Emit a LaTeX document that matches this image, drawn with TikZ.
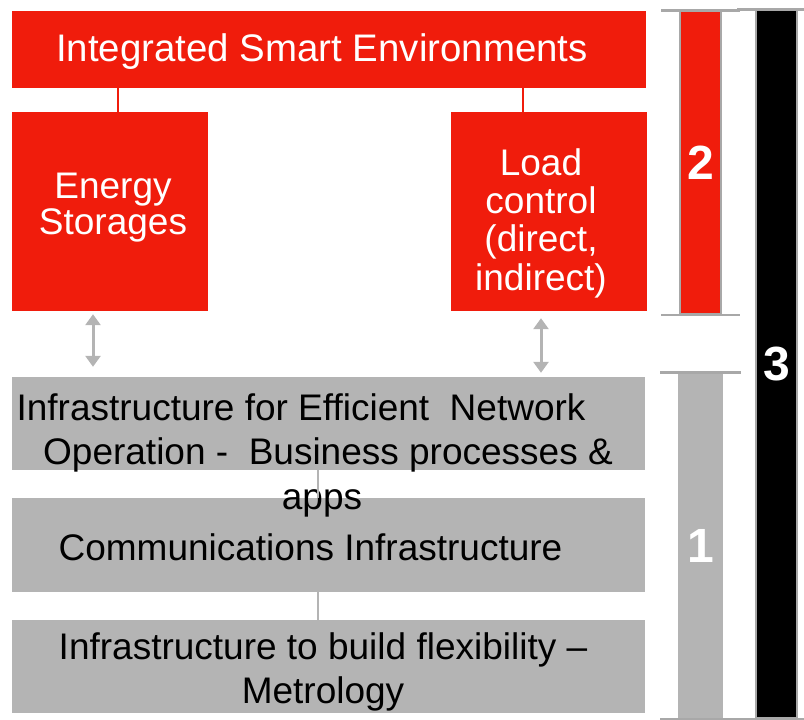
\documentclass[tikz,border=0pt]{standalone}
\usepackage{fontspec}
\setmainfont{Liberation Sans}
\usetikzlibrary{arrows.meta}

\definecolor{boxred}{RGB}{240,28,12}
\definecolor{boxgray}{RGB}{180,180,180}
\definecolor{rimgray}{RGB}{168,168,168}

\tikzset{
  redbox/.style={fill=boxred, inner sep=0pt},
  redtext/.style={text=white, align=center, inner sep=0pt, font=\fontsize{37}{38.3}\selectfont},
  graybox/.style={fill=boxgray, inner sep=0pt, minimum width=633pt, minimum height=93pt},
  graytext/.style={align=center, inner sep=0pt, font=\fontsize{37}{44.5}\selectfont},
  bar/.style={draw=rimgray, line width=1.5pt, inner sep=0pt, text=white,
    font=\fontsize{48}{48}\selectfont\bfseries},
  capline/.style={rimgray, line width=2.5pt},
  feed/.style={boxred, line width=2pt},
  link/.style={boxgray, line width=2pt},
  both/.style={boxgray, line width=3pt,
    {Triangle[width=15pt,length=11pt]}-{Triangle[width=15pt,length=11pt]}}
}

\begin{document}
\begin{tikzpicture}[x=1pt,y=-1pt]
    \useasboundingbox (0,0) rectangle (804,720);
    % upper level
    \node[redbox, minimum width=634pt, minimum height=77pt] (ise) at (329,49.5) {};
    \node[redbox, minimum width=196pt, minimum height=199pt] (storage) at (110,211.5) {};
    \node[redbox, minimum width=196pt, minimum height=199pt] (load) at (549,211.5) {};
    \node[redtext, font=\fontsize{38.4}{40}\selectfont] (isetext) at (322,51.5) {Integrated Smart Environments};
    \node[redtext, font=\fontsize{37}{36.5}\selectfont] (storagetext) at (113,207.5) {Energy\\Storages};
    \node[redtext] (loadtext) at (541,223) {Load\\control\\(direct,\\indirect)};
    \draw[feed] ([xshift=8pt]storage.north) -- ([xshift=8pt]storage.north |- ise.south);
    \draw[feed] ([xshift=-26pt]load.north) -- ([xshift=-26pt]load.north |- ise.south);
    % lower level
    \node[graybox] (ops) at (328.5,423.5) {};
    \node[graybox, minimum height=94pt] (comm) at (328.5,545) {};
    \node[graybox] (flex) at (328.5,666.5) {};
    \node[graytext] (opstext) at (322,455) {Infrastructure for Efficient\ \ Network\hspace*{42pt}\\\hspace*{12pt}Operation -\ \ Business processes \&\\apps};
    \node[graytext] (commtext) at (310.5,547) {Communications Infrastructure};
    \node[graytext] (flextext) at (323,672) {Infrastructure to build flexibility --\\Metrology};
    \draw[link] ([xshift=-10.5pt]ops.south) -- ([xshift=-10.5pt]comm.north);
    \draw[link] ([xshift=-10.5pt]comm.south) -- ([xshift=-10.5pt]flex.north);
    % between the levels
    \draw[both, shorten <=3pt, shorten >=10pt] ([xshift=-17pt]storage.south) -- ([xshift=-17pt]storage.south |- ops.north);
    \draw[both, shorten <=7pt, shorten >=4pt] ([xshift=-8pt]load.south) -- ([xshift=-8pt]load.south |- ops.north);
    % level bars
    \node[bar, fill=boxred, minimum width=41pt, minimum height=303pt] (lvltwo) at (700.5,162.5) {2};
    \node[bar, draw=boxgray, fill=boxgray, minimum width=43pt, minimum height=345pt] (lvlone) at (700.5,545.5) {1};
    \node[bar, fill=black, minimum width=41pt, minimum height=708pt] (lvlthree) at (776.5,364) {3};
    \foreach \n in {lvltwo,lvlone,lvlthree} {
        \draw[capline] ([xshift=-18pt]\n.north west) -- ([xshift=18pt]\n.north east);
        \draw[capline] ([xshift=-18pt]\n.south west) -- ([xshift=18pt]\n.south east);
    }
\end{tikzpicture}
\end{document}
